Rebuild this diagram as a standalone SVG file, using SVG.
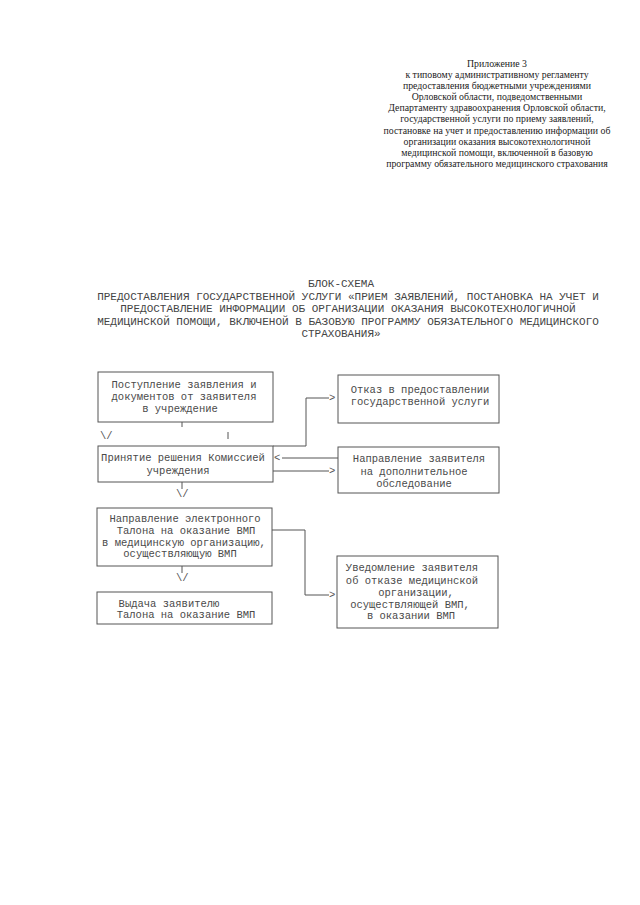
<svg xmlns="http://www.w3.org/2000/svg" width="640" height="905" viewBox="0 0 640 905">
<style>
.bg{fill:#ffffff}
.hdr{font-family:"Liberation Serif","Times New Roman",serif;font-size:9.8px;fill:#222;text-anchor:middle}
.ttl{font-family:"Liberation Mono","Courier New",monospace;font-size:11px;fill:#444;text-anchor:middle}
.box{fill:none;stroke:#555;stroke-width:1}
.bt{font-family:"Liberation Mono","Courier New",monospace;font-size:10.5px;fill:#4a4a4a;text-anchor:middle}
.ln{fill:none;stroke:#555;stroke-width:1}
.sym{font-family:"Liberation Mono","Courier New",monospace;font-size:10.5px;fill:#555}
</style>
<rect class="bg" x="0" y="0" width="640" height="905"/>
<g id="header">
<text class="hdr" x="497" y="67">Приложение 3</text>
<text class="hdr" x="497" y="78">к типовому административному регламенту</text>
<text class="hdr" x="497" y="89">предоставления бюджетными учреждениями</text>
<text class="hdr" x="497" y="100">Орловской области, подведомственными</text>
<text class="hdr" x="497" y="111">Департаменту здравоохранения Орловской области,</text>
<text class="hdr" x="497" y="122">государственной услуги по приему заявлений,</text>
<text class="hdr" x="497" y="134">постановке на учет и предоставлению информации об</text>
<text class="hdr" x="497" y="145">организации оказания  высокотехнологичной</text>
<text class="hdr" x="497" y="156">медицинской помощи, включенной в базовую</text>
<text class="hdr" x="497" y="167">программу обязательного медицинского страхования</text>
</g>
<g id="title">
<text class="ttl" x="341" y="287">БЛОК-СХЕМА</text>
<text class="ttl" x="348" y="300">ПРЕДОСТАВЛЕНИЯ ГОСУДАРСТВЕННОЙ УСЛУГИ «ПРИЕМ ЗАЯВЛЕНИЙ, ПОСТАНОВКА НА УЧЕТ И</text>
<text class="ttl" x="348" y="312">ПРЕДОСТАВЛЕНИЕ ИНФОРМАЦИИ ОБ ОРГАНИЗАЦИИ ОКАЗАНИЯ ВЫСОКОТЕХНОЛОГИЧНОЙ</text>
<text class="ttl" x="348" y="325">МЕДИЦИНСКОЙ ПОМОЩИ, ВКЛЮЧЕНОЙ В БАЗОВУЮ ПРОГРАММУ ОБЯЗАТЕЛЬНОГО МЕДИЦИНСКОГО</text>
<text class="ttl" x="341" y="337">СТРАХОВАНИЯ»</text>
</g>
<g id="connectors">
<line class="ln" x1="182" y1="422" x2="182" y2="427"/>
<text class="sym" x="100" y="439">\/</text>
<line class="ln" x1="228" y1="432" x2="228" y2="439"/>
<line class="ln" x1="182" y1="482" x2="182" y2="489"/>
<text class="sym" x="176" y="497">\/</text>
<line class="ln" x1="182" y1="566" x2="182" y2="573"/>
<text class="sym" x="176" y="581">\/</text>
<polyline class="ln" points="273,446 306,446 306,398 329,398"/>
<text class="sym" x="329" y="401">&gt;</text>
<line class="ln" x1="282" y1="458" x2="338" y2="458"/>
<text class="sym" x="274" y="461">&lt;</text>
<line class="ln" x1="273" y1="471" x2="329" y2="471"/>
<text class="sym" x="329" y="474">&gt;</text>
<polyline class="ln" points="272,530 305,530 305,595 329,595"/>
<text class="sym" x="329" y="598">&gt;</text>
</g>
<g id="n1">
<rect class="box" x="98" y="372" width="175" height="50"/>
<text class="bt" x="184" y="388">Поступление заявления и</text>
<text class="bt" x="184" y="400">документов от заявителя</text>
<text class="bt" x="180" y="412">в учреждение</text>
</g>
<g id="n2">
<rect class="box" x="98" y="446" width="175" height="36"/>
<text class="bt" x="183" y="461">Принятие решения Комиссией</text>
<text class="bt" x="178" y="474">учреждения</text>
</g>
<g id="n3">
<rect class="box" x="97" y="508" width="175" height="58"/>
<text class="bt" x="185" y="522">Направление электронного</text>
<text class="bt" x="186" y="534">Талона на оказание ВМП</text>
<text class="bt" x="184" y="546">в медицинскую организацию,</text>
<text class="bt" x="180" y="557">осуществляющую ВМП</text>
</g>
<g id="n4">
<rect class="box" x="97" y="592" width="175" height="32"/>
<text class="bt" x="169" y="607">Выдача заявителю</text>
<text class="bt" x="186" y="618">Талона на оказание ВМП</text>
</g>
<g id="n5">
<rect class="box" x="338" y="375" width="161" height="48"/>
<text class="bt" x="420" y="393">Отказ в предоставлении</text>
<text class="bt" x="420" y="405">государственной услуги</text>
</g>
<g id="n6">
<rect class="box" x="338" y="447" width="161" height="46"/>
<text class="bt" x="419" y="462">Направление заявителя</text>
<text class="bt" x="414" y="475">на дополнительное</text>
<text class="bt" x="414" y="487">обследование</text>
</g>
<g id="n7">
<rect class="box" x="337" y="556" width="161" height="72"/>
<text class="bt" x="412" y="571">Уведомление заявителя</text>
<text class="bt" x="412" y="584">об отказе медицинской</text>
<text class="bt" x="416" y="596">организации,</text>
<text class="bt" x="410" y="608">осуществляющей ВМП,</text>
<text class="bt" x="411" y="619">в оказании ВМП</text>
</g>
</svg>
